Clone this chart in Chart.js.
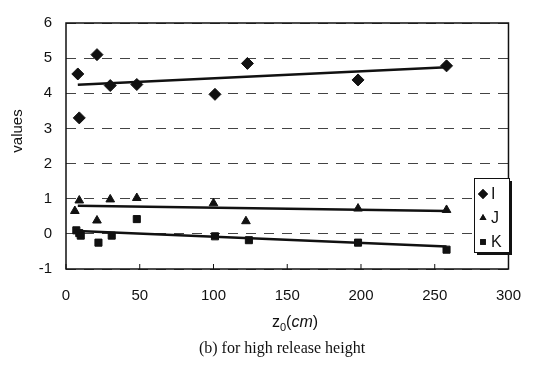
<!DOCTYPE html>
<html>
<head>
<meta charset="utf-8">
<script src="https://cdn.jsdelivr.net/npm/chart.js@4.4.1/dist/chart.umd.min.js"></script>
<style>
  html, body { margin: 0; padding: 0; background: #fff; }
  #wrap { width: 539px; height: 377px; }
</style>
</head>
<body>
<div id="wrap"><canvas id="chart" width="539" height="377"></canvas></div>
<script>
// values
const zI = [8, 9, 21, 30, 48, 101, 123, 198, 258];
const valI = [4.55, 3.3, 5.1, 4.22, 4.25, 3.97, 4.85, 4.38, 4.78];
const zJ = [6, 9, 21, 30, 48, 100, 122, 198, 258];
const valJ = [0.65, 0.95, 0.38, 0.98, 1.02, 0.87, 0.36, 0.72, 0.68];
const zK = [7, 9, 10, 22, 31, 48, 101, 124, 198, 258];
const valK = [0.1, 0.02, -0.05, -0.25, -0.05, 0.42, -0.07, -0.18, -0.25, -0.45];
// fitted trend lines (end points)
const trendZ = [8, 258];
const trendI = [4.24, 4.74];
const trendJ = [0.8, 0.65];
const trendK = [0.08, -0.36];
const seriesNames = ["I", "J", "K"];
const xTicks = [0, 50, 100, 150, 200, 250, 300];

const pts = (xs, ys) => xs.map((x, i) => ({ x, y: ys[i] }));

const styles = [
  { pointStyle: "rectRot", radius: 6 },
  { pointStyle: "triangle", radius: 5 },
  { pointStyle: "rect", radius: 5 },
];

const decor = {
  id: "decor",
  afterDraw(chart) {
    const { ctx, chartArea: a, scales } = chart;
    ctx.save();
    // frame
    ctx.strokeStyle = "#111";
    ctx.lineWidth = 1.5;
    ctx.strokeRect(a.left, a.top, a.right - a.left, a.bottom - a.top);
    // inward ticks on x axis
    ctx.lineWidth = 1;
    xTicks.forEach((t) => {
      const px = scales.x.getPixelForValue(t);
      ctx.beginPath();
      ctx.moveTo(px, a.bottom);
      ctx.lineTo(px, a.bottom - 5);
      ctx.stroke();
    });
    // y title
    ctx.fillStyle = "#111";
    ctx.font = "15px 'Liberation Sans', Arial, sans-serif";
    ctx.textAlign = "center";
    ctx.textBaseline = "middle";
    ctx.save();
    ctx.translate(18, 131);
    ctx.rotate(-Math.PI / 2);
    ctx.fillText("values", 0, 0);
    ctx.restore();
    // x title z0(cm)
    ctx.textAlign = "left";
    ctx.textBaseline = "alphabetic";
    ctx.font = "16px 'Liberation Sans', Arial, sans-serif";
    let x = 272, y = 327;
    ctx.fillText("z", x, y);
    x += ctx.measureText("z").width;
    ctx.font = "11px 'Liberation Sans', Arial, sans-serif";
    ctx.fillText("0", x, y + 4);
    x += ctx.measureText("0").width;
    ctx.font = "16px 'Liberation Sans', Arial, sans-serif";
    ctx.fillText("(", x, y);
    x += ctx.measureText("(").width;
    ctx.font = "italic 16px 'Liberation Sans', Arial, sans-serif";
    ctx.fillText("cm", x, y);
    x += ctx.measureText("cm").width;
    ctx.font = "16px 'Liberation Sans', Arial, sans-serif";
    ctx.fillText(")", x, y);
    // caption
    ctx.textAlign = "center";
    ctx.font = "16px 'Liberation Serif', 'Times New Roman', serif";
    ctx.fillText("(b) for high release height", 282, 353);
    // legend box with shadow
    const lx = 474, ly = 178, lw = 35, lh = 74;
    ctx.fillStyle = "#111";
    ctx.fillRect(lx + 3, ly + 3, lw, lh);
    ctx.fillStyle = "#fff";
    ctx.fillRect(lx, ly, lw, lh);
    ctx.strokeStyle = "#111";
    ctx.lineWidth = 1;
    ctx.strokeRect(lx + 0.5, ly + 0.5, lw, lh);
    ctx.font = "16px 'Liberation Sans', Arial, sans-serif";
    ctx.textAlign = "left";
    ctx.textBaseline = "middle";
    seriesNames.forEach((name, i) => {
      const cy = ly + 16 + i * 24;
      ctx.fillStyle = "#111";
      Chart.helpers.drawPoint(ctx, { pointStyle: styles[i].pointStyle, radius: i === 0 ? 5 : 4, rotation: 0, borderWidth: 0 }, lx + 9, cy);
      ctx.fill();
      ctx.fillText(name, lx + 17, cy + 1);
    });
    ctx.restore();
  },
};

const scatter = (label, xs, ys, st) => ({
  type: "scatter",
  label,
  data: pts(xs, ys),
  pointStyle: st.pointStyle,
  pointRadius: st.radius,
  pointBackgroundColor: "#111",
  pointBorderColor: "#111",
  pointBorderWidth: 1,
});
const trend = (ys) => ({
  type: "line",
  label: "trend",
  data: pts(trendZ, ys),
  borderColor: "#111",
  borderWidth: 2.5,
  pointRadius: 0,
  fill: false,
});

const tickFont = { family: "'Liberation Sans', Arial, sans-serif", size: 15 };

new Chart(document.getElementById("chart"), {
  data: {
    datasets: [
      trend(trendI), trend(trendJ), trend(trendK),
      scatter(seriesNames[0], zI, valI, styles[0]),
      scatter(seriesNames[1], zJ, valJ, styles[1]),
      scatter(seriesNames[2], zK, valK, styles[2]),
    ],
  },
  options: {
    responsive: false,
    animation: false,
    layout: { padding: { top: 15, right: 19, left: 0, bottom: 0 } },
    plugins: { legend: { display: false }, tooltip: { enabled: false } },
    scales: {
      x: {
        type: "linear",
        min: 0, max: 300,
        afterBuildTicks: (s) => { s.ticks = xTicks.map((v) => ({ value: v })); },
        afterFit: (s) => { s.height = 108; },
        grid: { display: false, drawTicks: false },
        border: { display: false },
        ticks: { color: "#111", padding: 18, maxRotation: 0, font: tickFont },
      },
      y: {
        min: -1, max: 6,
        afterFit: (s) => { s.width = 66; },
        grid: { color: "#444", drawTicks: false, lineWidth: 1 },
        border: { display: false, dash: [10, 8] },
        ticks: { stepSize: 1, color: "#111", padding: 14, font: tickFont },
      },
    },
  },
  plugins: [decor],
});
</script>
</body>
</html>
